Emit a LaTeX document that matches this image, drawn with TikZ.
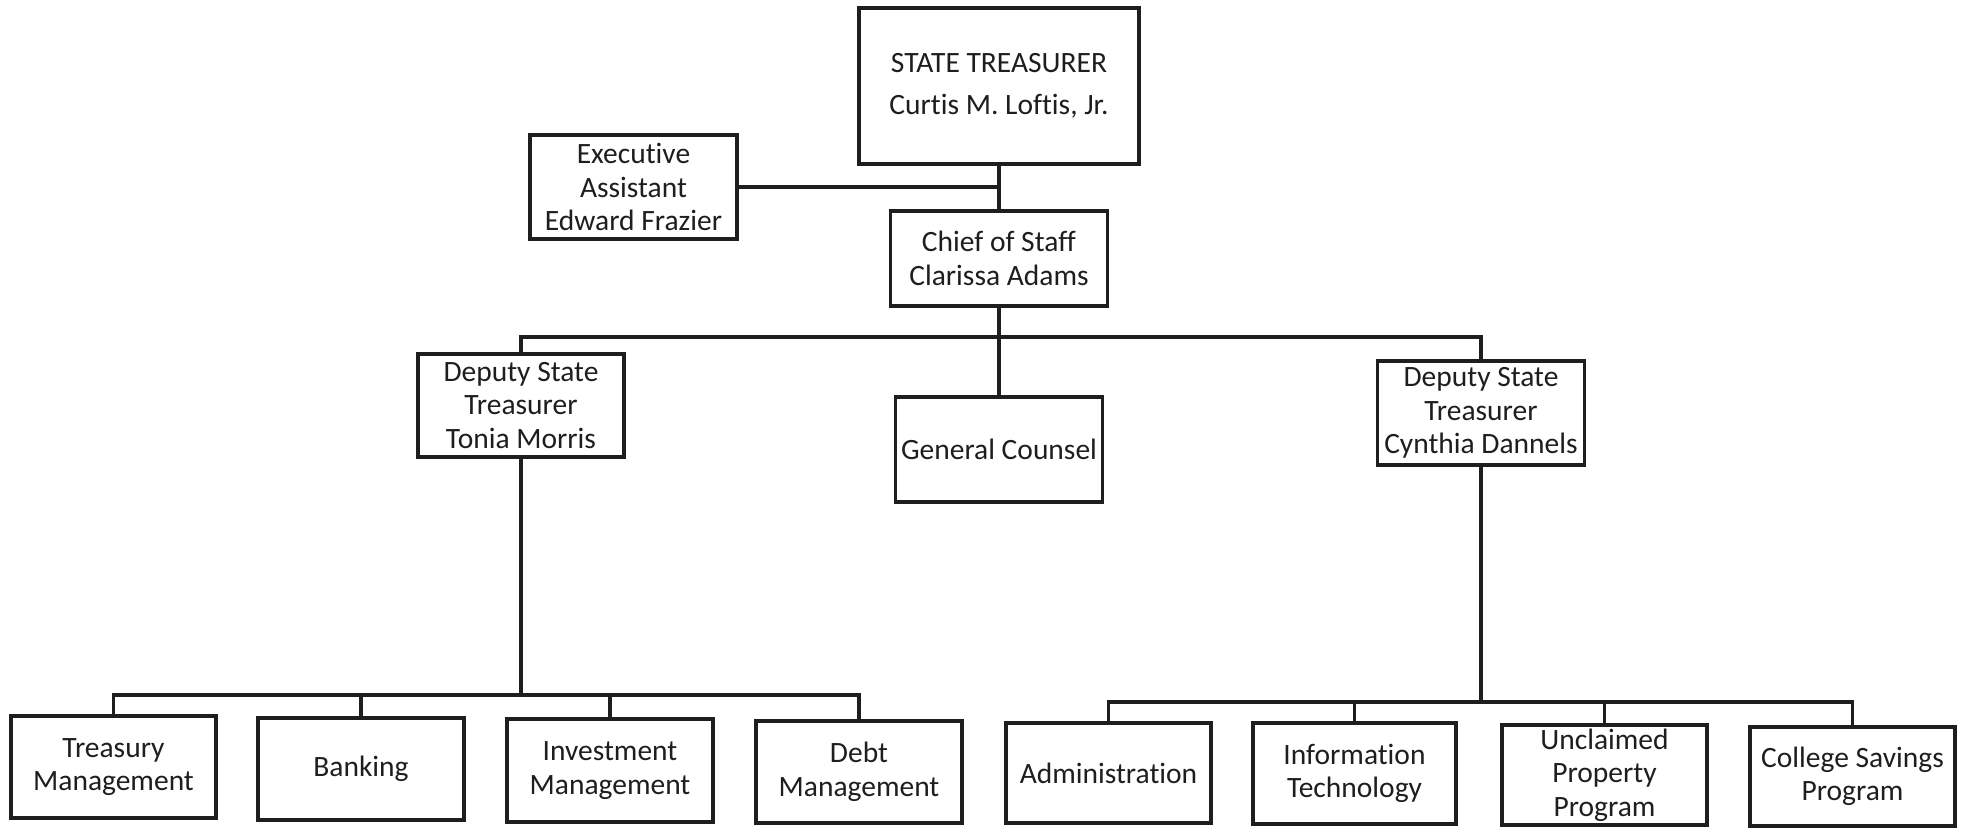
\documentclass[tikz,border=0pt]{standalone}
\usepackage{fontspec}
\setmainfont{Carlito}[Ligatures=NoCommon]
\definecolor{ink}{HTML}{1E1E1E}
\begin{document}
\begin{tikzpicture}[x=1pt,y=-1pt,
  box/.style={draw=ink,line width=3.2pt,inner sep=0pt,align=center,text=ink,
    font=\fontsize{29.5}{33.5}\selectfont},
  wire/.style={draw=ink,line width=3.2pt}]
\useasboundingbox (0,0) rectangle (1963,830);
% top
\node[box,minimum width=280,minimum height=156] (tr) at (999,86)
  {STATE TREASURER\\[9pt]Curtis M. Loftis, Jr.};
\node[box,minimum width=207,minimum height=104] (ea) at (633.5,187)
  {Executive\\Assistant\\Edward Frazier};
\node[box,minimum width=217,minimum height=95] (cs) at (999,258.5)
  {Chief of Staff\\Clarissa Adams};
% middle
\node[box,minimum width=206,minimum height=103] (dl) at (521,405.5)
  {Deputy State\\Treasurer\\Tonia Morris};
\node[box,minimum width=207,minimum height=105] (gc) at (999,449.5)
  {General Counsel};
\node[box,minimum width=207,minimum height=104] (dr) at (1481,413)
  {Deputy State\\Treasurer\\Cynthia Dannels};
% bottom left
\node[box,minimum width=205,minimum height=102] (tm) at (113.5,767) {Treasury\\Management};
\node[box,minimum width=206,minimum height=102] (bk) at (361,769) {Banking};
\node[box,minimum width=206,minimum height=103] (im) at (610,770.5) {Investment\\Management};
\node[box,minimum width=206,minimum height=102] (dm) at (859,772) {Debt\\Management};
% bottom right
\node[box,minimum width=205,minimum height=100] (ad) at (1108.5,773) {Administration};
\node[box,minimum width=203,minimum height=101] (it) at (1354.5,773.5) {Information\\Technology};
\node[box,minimum width=205,minimum height=100] (up) at (1604.5,775) {Unclaimed\\Property\\Program};
\node[box,minimum width=205,minimum height=99] (cp) at (1852.5,776.5) {College Savings\\Program};
% connectors
\coordinate (j) at (tr.south |- ea.east);
\draw[wire] (tr.south) -- (cs.north);
\draw[wire] (ea.east) -- (j);
\coordinate (mb) at (999,337);
\draw[wire] (cs.south) -- (gc.north);
\draw[wire] (dl.north) |- (mb) -| (dr.north);
\coordinate (lb) at (521,695);
\draw[wire] (dl.south) -- (lb);
\draw[wire] (tm.north) |- (lb) -| (dm.north);
\draw[wire] (bk.north) -- (bk.north |- lb);
\draw[wire] (im.north) -- (im.north |- lb);
\coordinate (rb) at (1481,702);
\draw[wire] (dr.south) -- (rb);
\draw[wire] (ad.north) |- (rb) -| (cp.north);
\draw[wire] (it.north) -- (it.north |- rb);
\draw[wire] (up.north) -- (up.north |- rb);
\end{tikzpicture}
\end{document}
